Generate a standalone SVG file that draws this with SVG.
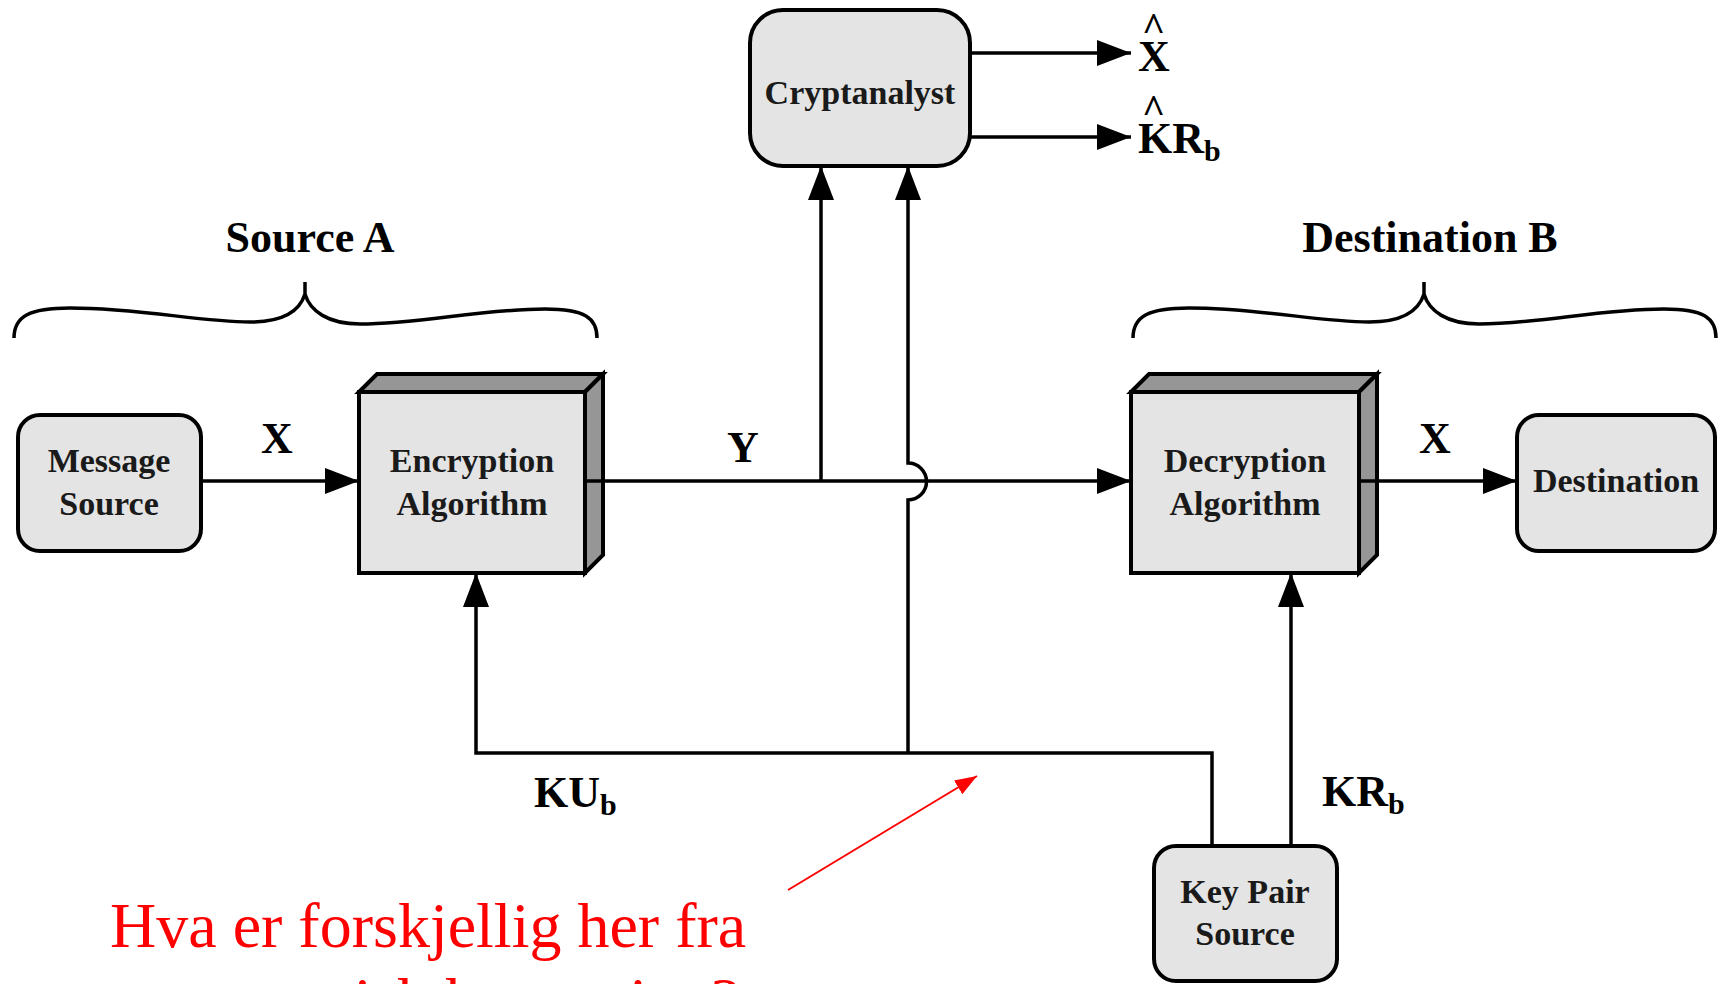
<svg xmlns="http://www.w3.org/2000/svg" width="1722" height="984" viewBox="0 0 1722 984">
  <style>
    .box { fill: #e4e4e4; stroke: #000; stroke-width: 4; }
    .face { fill: #969696; stroke: #000; stroke-width: 4; stroke-linejoin: miter; }
    .lbl { font-family: "Liberation Serif", "Times New Roman", serif; font-weight: bold; font-size: 34px; fill: #1a1a1a; text-anchor: middle; }
    .sig { font-family: "Liberation Serif", "Times New Roman", serif; font-weight: bold; font-size: 44px; fill: #000; }
    .sub { font-size: 30px; }
    .hat { font-size: 40px; }
    .wire { fill: none; stroke: #000; stroke-width: 3.5; }
    .brace { fill: none; stroke: #000; stroke-width: 3.5; stroke-linejoin: round; }
    .note { font-family: "Liberation Serif", "Times New Roman", serif; font-size: 64px; fill: #ff0000; }
  </style>
  <defs>
    <marker id="arrow" markerUnits="userSpaceOnUse" markerWidth="36" markerHeight="28" refX="34" refY="13" orient="auto">
      <path d="M0,0 L34,13 L0,26 z" fill="#000"/>
    </marker>
    <marker id="redarrow" markerUnits="userSpaceOnUse" markerWidth="24" markerHeight="18" refX="22" refY="8" orient="auto">
      <path d="M0,0 L22,8 L0,16 z" fill="#ff0000"/>
    </marker>
    <path id="curly" d="M14,338 C14,316 30,308 70,308 C140,308 200,322 250,322 C285,322 300,310 305,294 M305,282 L305,294 C310,311 328,324 360,324 C420,324 480,309 545,309 C585,309 597,318 597,338"/>
  </defs>

  <rect width="1722" height="984" fill="#fff"/>

  <!-- group labels with braces -->
  <g id="source-a">
    <text class="sig" x="310" y="252" text-anchor="middle">Source A</text>
    <use href="#curly" class="brace"/>
  </g>
  <g id="destination-b">
    <text class="sig" x="1430" y="252" text-anchor="middle">Destination B</text>
    <use href="#curly" class="brace" transform="translate(1119,0)"/>
  </g>

  <!-- nodes -->
  <g id="message-source">
    <rect class="box" x="18" y="415" width="183" height="136" rx="22"/>
    <text class="lbl" x="109" y="472">Message</text>
    <text class="lbl" x="109" y="515">Source</text>
  </g>

  <g id="encryption">
    <polygon class="face" points="359,392 377,374 603,374 585,392"/>
    <polygon class="face" points="585,392 603,374 603,555 585,573"/>
    <rect class="box" x="359" y="392" width="226" height="181"/>
    <text class="lbl" x="472" y="472">Encryption</text>
    <text class="lbl" x="472" y="515">Algorithm</text>
  </g>

  <g id="cryptanalyst">
    <rect class="box" x="750" y="10" width="220" height="156" rx="33"/>
    <text class="lbl" x="860" y="104">Cryptanalyst</text>
  </g>

  <g id="decryption">
    <polygon class="face" points="1131,392 1149,374 1377,374 1359,392"/>
    <polygon class="face" points="1359,392 1377,374 1377,555 1359,573"/>
    <rect class="box" x="1131" y="392" width="228" height="181"/>
    <text class="lbl" x="1245" y="472">Decryption</text>
    <text class="lbl" x="1245" y="515">Algorithm</text>
  </g>

  <g id="destination">
    <rect class="box" x="1517" y="415" width="198" height="136" rx="22"/>
    <text class="lbl" x="1616" y="492">Destination</text>
  </g>

  <g id="key-pair-source">
    <rect class="box" x="1154" y="846" width="183" height="135" rx="22"/>
    <text class="lbl" x="1245" y="903">Key Pair</text>
    <text class="lbl" x="1245" y="945">Source</text>
  </g>

  <!-- connectors -->
  <g id="connectors">
    <path class="wire" d="M201,481 H359" marker-end="url(#arrow)"/>
    <path class="wire" d="M585,481 H1131" marker-end="url(#arrow)"/>
    <path class="wire" d="M1359,481 H1517" marker-end="url(#arrow)"/>
    <path class="wire" d="M821,481 V166" marker-end="url(#arrow)"/>
    <!-- public key branch hops over the ciphertext line -->
    <path class="wire" d="M908,753 V500 a18.5,18.5 0 0 0 0,-37 V166" marker-end="url(#arrow)"/>
    <path class="wire" d="M970,53 H1131" marker-end="url(#arrow)"/>
    <path class="wire" d="M970,137 H1131" marker-end="url(#arrow)"/>
    <path class="wire" d="M1212,846 V753 H476 V573" marker-end="url(#arrow)"/>
    <path class="wire" d="M1291,846 V573" marker-end="url(#arrow)"/>
  </g>

  <!-- signal labels -->
  <g id="labels">
    <text class="sig" x="277" y="453" text-anchor="middle">X</text>
    <text class="sig" x="743" y="462" text-anchor="middle">Y</text>
    <text class="sig" x="1435" y="453" text-anchor="middle">X</text>
    <!-- estimates: caret set above the symbol in the same label -->
    <text class="sig"><tspan class="hat" x="1142" y="41">^</tspan><tspan x="1138" y="71">X</tspan></text>
    <text class="sig"><tspan class="hat" x="1142" y="123">^</tspan><tspan x="1138" y="153">KR</tspan><tspan class="sub" dy="8">b</tspan></text>
    <text class="sig" x="534" y="807">KU<tspan class="sub" dy="8">b</tspan></text>
    <text class="sig" x="1322" y="806">KR<tspan class="sub" dy="8">b</tspan></text>
  </g>

  <!-- annotation -->
  <g id="annotation">
    <line x1="788" y1="890" x2="977" y2="776" stroke="#ff0000" stroke-width="2" marker-end="url(#redarrow)"/>
    <text class="note" x="110" y="947">Hva er forskjellig her fra</text>
    <text class="note" x="130" y="1022">symmetrisk kryptering?</text>
  </g>
</svg>
